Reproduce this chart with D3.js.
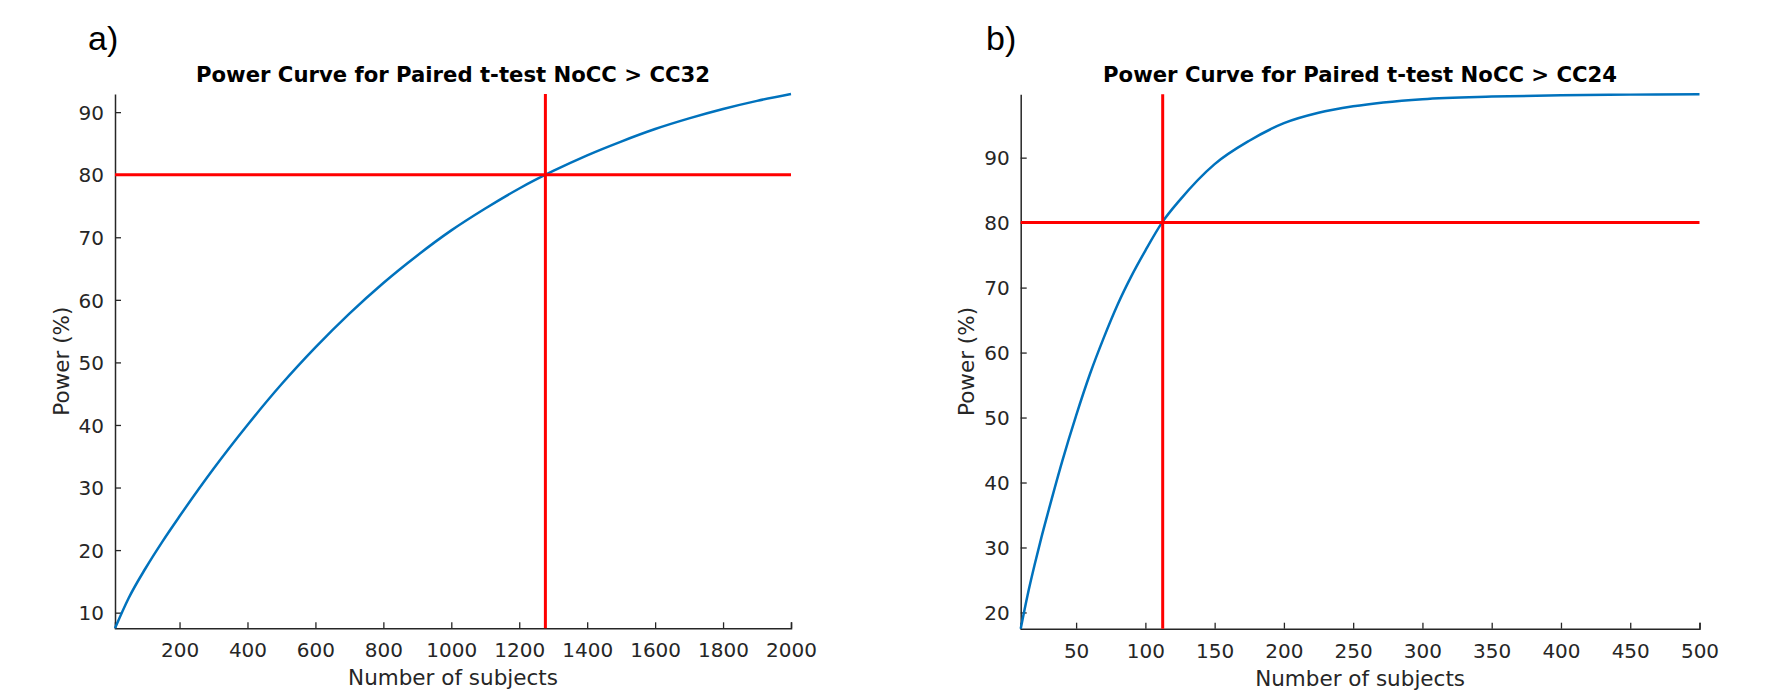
<!DOCTYPE html>
<html>
<head>
<meta charset="utf-8">
<script src="https://cdn.jsdelivr.net/npm/d3@7"></script>
<style>
  html, body { margin: 0; padding: 0; background: #fff; }
  svg { display: block; }
</style>
</head>
<body>
<svg id="chart" width="1779" height="700"></svg>
<script>
// ---------- data ----------
const subjectsA = [10, 50, 100, 150, 200, 300, 400, 500, 600, 700, 800, 900, 1000, 1100, 1200, 1300, 1400, 1500, 1600, 1700, 1800, 1900, 2000];
const powerA    = [7.5, 12.3, 17.1, 21.4, 25.4, 33.0, 40.0, 46.5, 52.4, 57.8, 62.7, 67.1, 71.1, 74.6, 77.8, 80.6, 83.1, 85.3, 87.3, 89.0, 90.5, 91.8, 92.9];
const xTicksA   = [200, 400, 600, 800, 1000, 1200, 1400, 1600, 1800, 2000];
const yTicksA   = [10, 20, 30, 40, 50, 60, 70, 80, 90];
const cutoffA   = 1277;

const subjectsB = [10, 15, 20, 25, 30, 40, 50, 60, 70, 80, 90, 100, 112, 125, 150, 175, 200, 225, 250, 300, 350, 400, 450, 500];
const powerB    = [17.5, 22.7, 27.3, 31.6, 35.6, 43.3, 50.3, 56.7, 62.3, 67.4, 71.8, 75.7, 80.0, 83.5, 89.0, 92.6, 95.3, 96.9, 97.9, 99.0, 99.4, 99.6, 99.7, 99.75];
const xTicksB   = [50, 100, 150, 200, 250, 300, 350, 400, 450, 500];
const yTicksB   = [20, 30, 40, 50, 60, 70, 80, 90];
const cutoffB   = 112.5;

const targetPower = 80;
const titleA = "Power Curve for Paired t-test NoCC > CC32";
const titleB = "Power Curve for Paired t-test NoCC > CC24";
const xLabel = "Number of subjects";
const yLabel = "Power (%)";

// ---------- drawing ----------
const svg = d3.select("#chart");
svg.append("rect").attr("width", 1779).attr("height", 700).attr("fill", "#fff");

const AXIS = "#262626";
const BLUE = "#0072BD";
const RED = "#FF0000";

function panel(cfg) {
  const x = d3.scaleLinear().domain([cfg.xs[0], cfg.xs[cfg.xs.length - 1]]).range([cfg.left, cfg.right]);
  const y = d3.scaleLinear().domain(d3.extent(cfg.ys)).range([cfg.bottom, cfg.top]);
  const g = svg.append("g");

  // panel letter
  g.append("text").attr("x", cfg.letterX).attr("y", 50)
    .attr("font-family", "Liberation Sans, Arial, sans-serif").attr("font-size", 34)
    .attr("fill", "#000").text(cfg.letter);

  // title
  g.append("text").attr("x", (cfg.left + cfg.right) / 2).attr("y", 82)
    .attr("text-anchor", "middle")
    .attr("font-family", "DejaVu Sans, sans-serif").attr("font-size", 21.2).attr("font-weight", "bold")
    .attr("fill", "#000").text(cfg.title);

  // axes
  const xAxis = d3.axisBottom(x).tickValues(cfg.xTicks).tickSizeInner(-6).tickSizeOuter(-6).tickPadding(15).tickFormat(d3.format("d"));
  const yAxis = d3.axisLeft(y).tickValues(cfg.yTicks).tickSizeInner(-6).tickSizeOuter(0).tickPadding(11).tickFormat(d3.format("d"));

  const gx = g.append("g").attr("transform", `translate(0,${cfg.bottom})`).call(xAxis);
  const gy = g.append("g").attr("transform", `translate(${cfg.left},0)`).call(yAxis);
  [gx, gy].forEach(a => {
    a.select(".domain").attr("stroke", AXIS).attr("stroke-width", 1.5);
    a.selectAll(".tick line").attr("stroke", AXIS).attr("stroke-width", 1.3);
    a.selectAll(".tick text").attr("fill", AXIS).attr("font-family", "DejaVu Sans, sans-serif").attr("font-size", 20);
  });
  gy.selectAll(".tick text").attr("dy", "0.36em");
  gx.selectAll(".tick text").attr("dy", "0.71em");

  // axis labels
  g.append("text").attr("x", (cfg.left + cfg.right) / 2).attr("y", cfg.bottom + 57)
    .attr("text-anchor", "middle").attr("font-family", "DejaVu Sans, sans-serif").attr("font-size", 21.5)
    .attr("fill", AXIS).text(xLabel);
  g.append("text")
    .attr("transform", `translate(${cfg.left - 46.5},${(cfg.top + cfg.bottom) / 2}) rotate(-90)`)
    .attr("text-anchor", "middle").attr("font-family", "DejaVu Sans, sans-serif").attr("font-size", 21.5)
    .attr("fill", AXIS).text(yLabel);

  // curve
  const data = cfg.xs.map((v, i) => [v, cfg.ys[i]]);
  g.append("path").datum(data)
    .attr("fill", "none").attr("stroke", BLUE).attr("stroke-width", 2.5)
    .attr("d", d3.line().x(d => x(d[0])).y(d => y(d[1])).curve(d3.curveMonotoneX));

  // threshold lines
  g.append("line").attr("x1", x.range()[0]).attr("x2", x.range()[1])
    .attr("y1", y(targetPower)).attr("y2", y(targetPower))
    .attr("stroke", RED).attr("stroke-width", 3);
  g.append("line").attr("x1", x(cfg.cutoff)).attr("x2", x(cfg.cutoff))
    .attr("y1", y.range()[0]).attr("y2", y.range()[1])
    .attr("stroke", RED).attr("stroke-width", 3);
}

panel({
  letter: "a)", letterX: 88, title: titleA,
  xs: subjectsA, ys: powerA, xTicks: xTicksA, yTicks: yTicksA, cutoff: cutoffA,
  left: 115, right: 791, top: 94, bottom: 628.3
});
panel({
  letter: "b)", letterX: 986, title: titleB,
  xs: subjectsB, ys: powerB, xTicks: xTicksB, yTicks: yTicksB, cutoff: cutoffB,
  left: 1020.7, right: 1699.5, top: 94.3, bottom: 628.7
});
</script>
</body>
</html>
